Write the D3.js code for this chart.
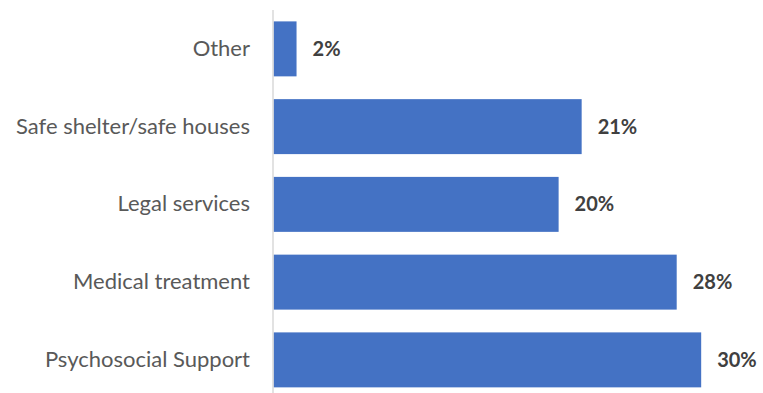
<!DOCTYPE html>
<html>
<head>
<meta charset="utf-8">
<script src="https://cdn.jsdelivr.net/npm/d3@7"></script>
<style>
  html, body { margin: 0; padding: 0; background: #ffffff; }
  svg { display: block; }
</style>
</head>
<body>
<svg id="chart" width="763" height="393"></svg>
<script>
// Support services, share of respondents
const categories = ["Other", "Safe shelter/safe houses", "Legal services", "Medical treatment", "Psychosocial Support"];
const shares = [0.016, 0.214, 0.198, 0.280, 0.297];

const svg = d3.select("#chart");
const W = 763, H = 393;
const axisX = 273;

const x = d3.scaleLinear().domain([0, 0.30]).range([axisX + 0.5, axisX + 0.5 + 432]);
const y = d3.scaleBand().domain(categories).range([10, 398.75])
  .paddingInner(0.293).paddingOuter(0.1465);

const pct = d3.format(".0%");

// bars
svg.append("g").selectAll("rect")
  .data(categories)
  .join("rect")
  .attr("x", x(0))
  .attr("y", d => y(d))
  .attr("width", (d, i) => x(shares[i]) - x(0))
  .attr("height", y.bandwidth())
  .attr("fill", "#4472c4");

// vertical category axis
const yAxis = d3.axisLeft(y).tickSize(0).tickPadding(23);
const gAxis = svg.append("g").attr("transform", `translate(${axisX},0)`).call(yAxis);
gAxis.select(".domain").remove();
gAxis.selectAll("text")
  .attr("font-family", "Lato, 'Open Sans', sans-serif")
  .attr("font-size", 22)
  .attr("fill", "#595959");
svg.append("line")
  .attr("x1", axisX).attr("x2", axisX)
  .attr("y1", 10).attr("y2", H)
  .attr("stroke", "#d9d9d9").attr("stroke-width", 1.5);

// value labels
svg.append("g").selectAll("text")
  .data(categories)
  .join("text")
  .attr("x", (d, i) => x(shares[i]) + 16)
  .attr("y", d => y(d) + y.bandwidth() / 2)
  .attr("dy", "0.35em")
  .attr("font-family", "Lato, 'Open Sans', sans-serif")
  .attr("font-weight", "bold")
  .attr("font-size", 20)
  .attr("fill", "#404040")
  .text((d, i) => pct(shares[i]));
</script>
</body>
</html>
